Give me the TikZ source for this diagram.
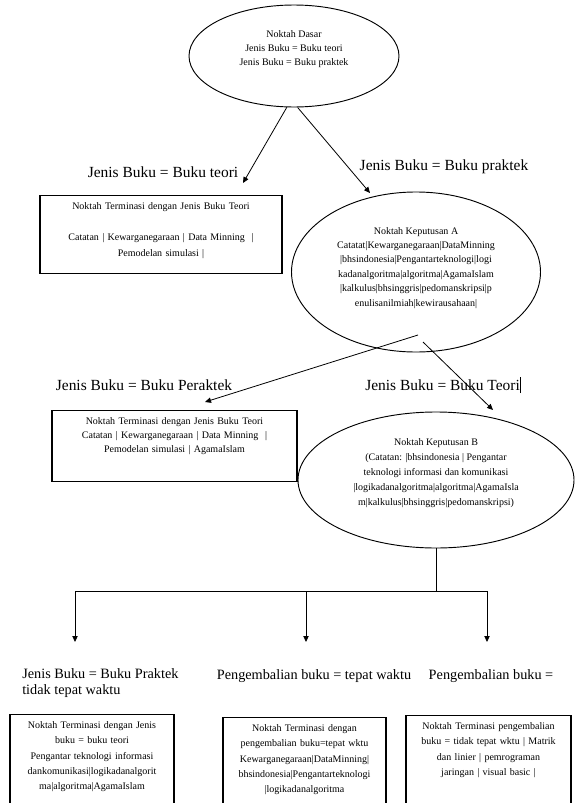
\documentclass[tikz,border=0pt]{standalone}
\usepackage{fontspec}
\setmainfont{Liberation Serif}
\usetikzlibrary{shapes.geometric,arrows.meta,positioning,calc}

\begin{document}
\begin{tikzpicture}[x=0.75pt,y=0.75pt,yscale=-1,xscale=1,
  every node/.style={font=\fontsize{7.5}{10.8}\selectfont},
  noktah/.style={draw, ellipse, line width=0.7pt, inner sep=0pt, align=center},
  terminasi/.style={draw, rectangle, line width=0.9pt, inner xsep=4pt, inner ysep=5pt, align=center, anchor=north, text height=5.5pt},
  cabang/.style={font=\fontsize{11.6}{13.5}\selectfont, inner sep=0pt},
  cabangbawah/.style={font=\fontsize{10.7}{12}\selectfont, inner sep=0pt},
  garis/.style={line width=0.6pt},
  panah/.style={line width=0.6pt, -{Triangle[length=4.5pt,width=4pt]}}]
\useasboundingbox (0,0) rectangle (583,803);
\clip (0,0) rectangle (583,803);

% Noktah (ellipse)
\node[noktah, minimum width=157.5pt, minimum height=76.5pt, font=\fontsize{7.5}{10.5}\selectfont, text depth=12.5pt] (dasar) at (294,56) {Noktah Dasar\\Jenis Buku = Buku teori\\Jenis Buku = Buku praktek};
\node[noktah, minimum width=186.75pt, minimum height=120pt, text depth=8pt] (kepA) at (416,272) {Noktah Keputusan A\\Catatat|Kewarganegaraan|DataMinning\\|bhsindonesia|Pengantarteknologi|logi\\kadanalgoritma|algoritma|AgamaIslam\\|kalkulus|bhsinggris|pedomanskripsi|p\\enulisanilmiah|kewirausahaan|};
\node[noktah, minimum width=207pt, minimum height=102pt, font=\fontsize{7.5}{11.25}\selectfont, text depth=12.5pt] (kepB) at (436,480) {Noktah Keputusan B\\(Catatan: |bhsindonesia | Pengantar\\teknologi informasi dan komunikasi\\|logikadanalgoritma|algoritma|AgamaIsla\\m|kalkulus|bhsinggris|pedomanskripsi)};

% Noktah terminasi (kotak)
\node[terminasi, text width=173.5pt, text depth=43pt, font=\fontsize{7.5}{11.6}\selectfont] (term1) at (161,195) {Noktah Terminasi dengan Jenis Buku Teori\\[11.6pt]Catatan | Kewarganegaraan | Data Minning\ \ |\\Pemodelan simulasi |};
\node[terminasi, text width=175.75pt, text depth=37.75pt, font=\fontsize{7.5}{10.5}\selectfont] (term2) at (174.5,410) {Noktah Terminasi dengan Jenis Buku Teori\\Catatan | Kewarganegaraan | Data Minning\ \ |\\Pemodelan simulasi | AgamaIslam};
\node[terminasi, text width=115pt, text depth=80pt, font=\fontsize{7.5}{11.4}\selectfont] (term3) at (92,714) {Noktah Terminasi dengan Jenis\\buku = buku teori\\Pengantar teknologi informasi\\dankomunikasi|logikadanalgorit\\ma|algoritma|AgamaIslam};
\node[terminasi, text width=114.25pt, text depth=80pt, font=\fontsize{7.5}{11.4}\selectfont] (term4) at (304.5,717) {Noktah Terminasi dengan\\pengembalian buku=tepat wktu\\Kewarganegaraan|DataMinning|\\bhsindonesia|Pengantarteknologi\\|logikadanalgoritma};
\node[terminasi, text width=115.75pt, text depth=80pt, font=\fontsize{7.5}{11.4}\selectfont] (term5) at (488.5,715) {Noktah Terminasi pengembalian\\buku = tidak tepat wktu | Matrik\\dan linier | pemrograman\\jaringan | visual basic |};

% Label cabang
\node[cabang] (teori) at (163,172) {Jenis Buku = Buku teori};
\node[cabang] (praktek) at (444,167) {Jenis Buku = Buku praktek};
\node[cabang] (peraktek) at (144,385) {Jenis Buku = Buku Peraktek};
\node[cabang] (teoriB) at (443,385) {Jenis Buku = Buku Teori\rule[-2pt]{0.6pt}{12pt}};
\node[cabangbawah, anchor=north west, align=left, font=\fontsize{10.7}{12}\selectfont] (praktekB) at (22,668) {Jenis Buku = Buku Praktek\\tidak tepat waktu};
\node[cabangbawah] (tepat) at (314,676) {Pengembalian buku = tepat waktu};
\node[cabangbawah] (tidaktepat) at (491,676) {Pengembalian buku =};

% Ujung panah
\coordinate (ujung1) at (243,183);
\coordinate (ujung2) at (370,193);
\coordinate (pangkal1) at (418,335);
\coordinate (pangkal2) at (423,342);
\coordinate (ujung3) at (205,402);
\coordinate (ujung4) at (493,410);
\coordinate (simpul) at ($(kepB.south)+(0,43)$);
\coordinate (daun1) at (75,642);
\coordinate (daun2) at (306,642);
\coordinate (daun3) at (487,642);

% Panah
\draw[panah] (dasar.262) -- (ujung1);
\draw[panah] (dasar.274) -- (ujung2);
\draw[panah] (pangkal1) -- (ujung3);
\draw[panah] (pangkal2) -- (ujung4);
\draw[garis] (kepB.south) -- (simpul);
\draw[panah] (simpul) -| (daun1);
\draw[panah] (simpul) -| (daun2);
\draw[panah] (simpul) -| (daun3);
\end{tikzpicture}
\end{document}
